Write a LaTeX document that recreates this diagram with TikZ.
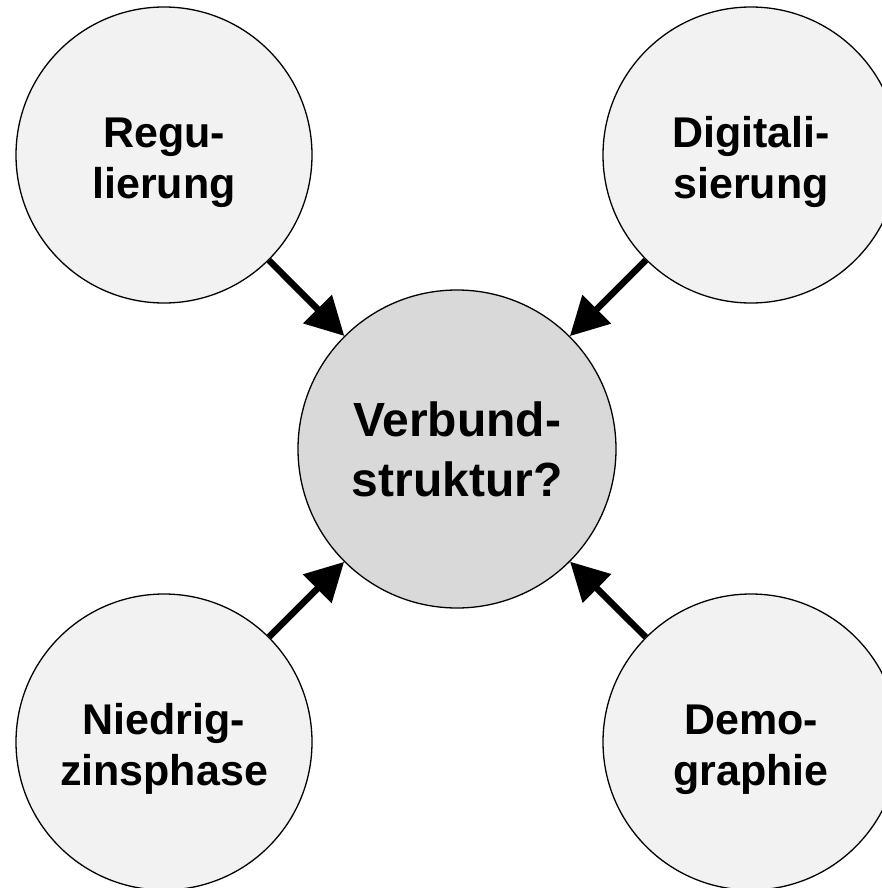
\documentclass[tikz,border=0pt]{standalone}
\usepackage{fontspec}
\setmainfont{Liberation Sans}
\usetikzlibrary{arrows.meta,positioning}

\begin{document}
\begin{tikzpicture}[x=1pt, y=-1pt,
    font=\fontsize{43}{51}\selectfont\bfseries,
    factor/.style={draw, circle, line width=1.3pt, fill=black!5, minimum size=296pt, inner sep=0pt, align=center, text height=95pt, text depth=9pt},
    target/.style={draw, circle, line width=1.3pt, fill=black!15, minimum size=318pt, inner sep=0pt, align=center, font=\fontsize{48}{60}\selectfont\bfseries},
    push/.style={line width=6.5pt, -{Triangle[length=38pt, width=39pt]}}]
    \useasboundingbox (0,0) rectangle (882,888);
    \clip (0,0) rectangle (882,888);

    % Central question
    \node[target] (Verbund) at (457,449) {Verbund-\\struktur?};

    % Influencing factors in the corners
    \node[factor] (Regu) at (164,155) {Regu-\\lierung};
    \node[factor] (Digi) at (751,155) {Digitali-\\sierung};
    \node[factor] (Zins) at (164,742) {Niedrig-\\zinsphase};
    \node[factor] (Demo) at (751,742) {Demo-\\graphie};

    % Arrows towards the centre
    \foreach \src in {Regu,Digi,Zins,Demo} {
      \draw[push] (\src) -- (Verbund);
    }
\end{tikzpicture}
\end{document}
